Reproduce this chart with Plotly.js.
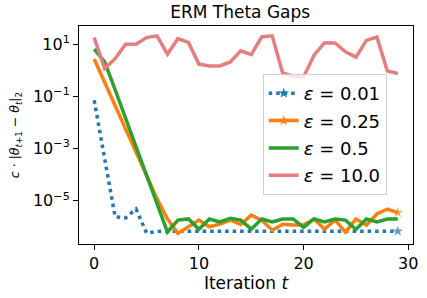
<!DOCTYPE html>
<html>
<head>
<meta charset="utf-8">
<script src="https://cdn.plot.ly/plotly-3.0.1.min.js"></script>
<style>html,body{margin:0;padding:0;background:#fff;}#chart{width:427px;height:298px;}</style>
</head>
<body>
<div id="chart"></div>
<script>
const iterations = [0,1,2,3,4,5,6,7,8,9,10,11,12,13,14,15,16,17,18,19,20,21,22,23,24,25,26,27,28,29];
const seriesNames = ["<i>ε</i> = 0.01", "<i>ε</i> = 0.25", "<i>ε</i> = 0.5", "<i>ε</i> = 10.0"];
const seriesColors = ["#1f77b4", "#ff7f0e", "#2ca02c", "#e67d7e"];
const eps001 = [7.1e-2, 3.5e-4, 2.4e-6, 2.2e-6, 4.8e-6, 5.8e-7, 6.6e-7, 6.8e-7, 6.8e-7, 6.8e-7,
  6.8e-7, 6.8e-7, 6.8e-7, 6.8e-7, 6.8e-7, 6.8e-7, 6.8e-7, 6.8e-7, 6.8e-7, 6.8e-7,
  6.8e-7, 6.8e-7, 6.8e-7, 6.8e-7, 6.8e-7, 6.8e-7, 6.8e-7, 6.8e-7, 6.8e-7, 6.8e-7];
const eps025 = [2.7, 0.35, 0.045, 5.8e-3, 7.4e-4, 9.5e-5, 1.2e-5, 2.0e-6, 5.6e-7, 1.0e-6,
  1.8e-6, 1.0e-6, 1.26e-6, 1.8e-6, 1.23e-6, 2.8e-6, 1.8e-6, 7.4e-7, 1.26e-6, 1.17e-6,
  1.17e-6, 2.0e-6, 8.1e-7, 1.8e-6, 6.2e-7, 2.0e-6, 1.17e-6, 3.1e-6, 4.8e-6, 3.5e-6];
const eps05 = [6.5, 2.1, 0.18, 0.014, 1.1e-3, 8.9e-5, 7.1e-6, 6.3e-7, 1.8e-6, 2.0e-6,
  8.1e-7, 2.0e-6, 1.55e-6, 2.1e-6, 1.8e-6, 8.1e-7, 2.0e-6, 1.55e-6, 2.0e-6, 2.0e-6,
  9.5e-7, 2.0e-6, 1.55e-6, 2.0e-6, 1.8e-6, 7.9e-7, 2.0e-6, 1.55e-6, 2.0e-6, 2.0e-6];
const eps10 = [18, 1.17, 2.8, 10, 10, 18, 21, 4.2, 16.6, 11.7,
  1.74, 1.48, 1.48, 2.1, 5.6, 4.0, 19, 21, 0.79, 0.59,
  0.56, 3.8, 11.5, 11.2, 5.1, 3.2, 14, 19, 0.95, 0.76];
const yTickVals = [10, 0.1, 0.001, 0.00001];
const yTickText = ["10<sup>1</sup>", "10<sup>−1</sup>", "10<sup>−3</sup>", "10<sup>−5</sup>"];
const xTickVals = [0, 10, 20, 30];

const STAR = 8;
const lastOnly = (arr) => arr.map((_, i) => i === arr.length - 1 ? STAR : 0);
const blueDash = "3.5px,4px";

const traces = [
  {x: iterations, y: eps001, mode: "lines+markers", showlegend: false,
   line: {color: seriesColors[0], width: 3.5, dash: blueDash},
   marker: {symbol: "star", size: lastOnly(iterations), color: seriesColors[0], line: {width: 0}}},
  {x: iterations, y: eps025, mode: "lines+markers", showlegend: false,
   line: {color: seriesColors[1], width: 3.5},
   marker: {symbol: "star", size: lastOnly(iterations), color: seriesColors[1], line: {width: 0}}},
  {x: iterations, y: eps05, mode: "lines", showlegend: false,
   line: {color: seriesColors[2], width: 3.5}},
  {x: iterations, y: eps10, mode: "lines", showlegend: false,
   line: {color: seriesColors[3], width: 3.5}},
  // legend entries
  {x: [null], y: [null], name: seriesNames[0], mode: "lines+markers", legendgroup: "a",
   line: {color: seriesColors[0], width: 3.5, dash: blueDash},
   marker: {symbol: "star", size: STAR, color: seriesColors[0], line: {width: 0}}},
  {x: [null], y: [null], name: seriesNames[1], mode: "lines+markers", legendgroup: "b",
   line: {color: seriesColors[1], width: 3.5},
   marker: {symbol: "star", size: STAR, color: seriesColors[1], line: {width: 0}}},
  {x: [null], y: [null], name: seriesNames[2], mode: "lines", legendgroup: "c",
   line: {color: seriesColors[2], width: 3.5}},
  {x: [null], y: [null], name: seriesNames[3], mode: "lines", legendgroup: "d",
   line: {color: seriesColors[3], width: 3.5}}
];

const layout = {
  width: 427, height: 298,
  margin: {l: 79, r: 14, t: 26, b: 54, pad: 0},
  paper_bgcolor: "#fff", plot_bgcolor: "#fff",
  font: {family: "DejaVu Sans", size: 16, color: "#000"},
  title: {text: "ERM Theta Gaps", font: {family: "DejaVu Sans", size: 17, color: "#000"},
          x: 0.5625, xanchor: "center", y: 0.96, yanchor: "middle"},
  xaxis: {range: [-1.45, 30.45], tickvals: xTickVals, ticks: "outside", ticklen: 5, tickwidth: 1,
          tickcolor: "#000", showline: true, linecolor: "#000", linewidth: 1, mirror: true,
          showgrid: false, zeroline: false, tickfont: {family: "DejaVu Sans", size: 16, color: "#000"},
          title: {text: "Iteration <i>t</i>", font: {family: "DejaVu Sans", size: 17, color: "#000"}, standoff: 3}},
  yaxis: {type: "log", range: [-6.66, 1.70], tickvals: yTickVals, ticktext: yTickText,
          ticks: "outside", ticklen: 5, tickwidth: 1, tickcolor: "#000",
          showline: true, linecolor: "#000", linewidth: 1, mirror: true,
          showgrid: false, zeroline: false, tickfont: {family: "DejaVu Sans", size: 16, color: "#000"},
          title: {text: "<i>c</i> · |<i>θ</i><sub><i>t</i>+1</sub> − <i>θ</i><sub><i>t</i></sub>|<sub>2</sub>",
                  font: {family: "DejaVu Sans", size: 12.5, color: "#000"}, standoff: 10}},
  legend: {x: 0.55, y: 0.78, xanchor: "left", yanchor: "top", bgcolor: "rgba(255,255,255,0.8)",
           bordercolor: "#d0d0d0", borderwidth: 1, font: {family: "DejaVu Sans", size: 18, color: "#000"},
           tracegroupgap: 1},
  showlegend: true
};

Plotly.newPlot("chart", traces, layout, {staticPlot: true, displayModeBar: false});
</script>
</body>
</html>
